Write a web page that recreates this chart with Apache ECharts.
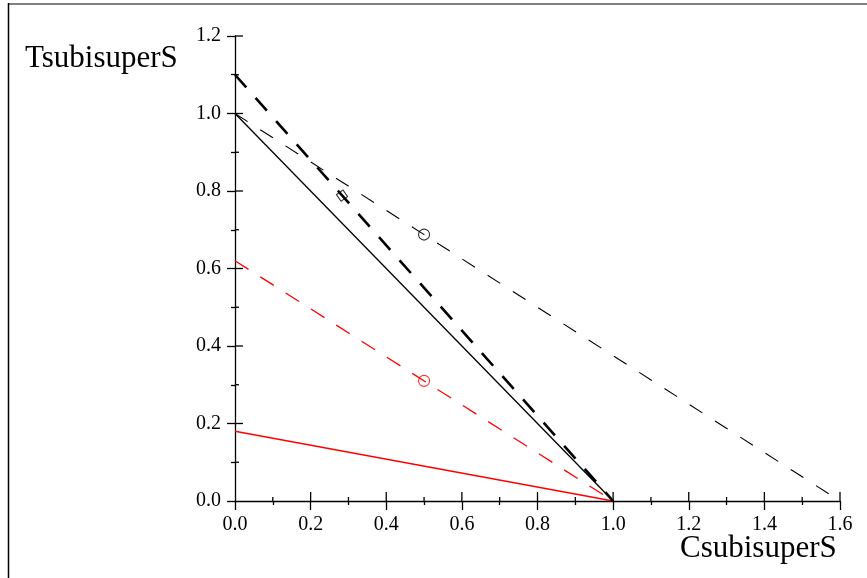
<!DOCTYPE html>
<html>
<head>
<meta charset="utf-8">
<script src="https://cdn.jsdelivr.net/npm/echarts@6/dist/echarts.min.js"></script>
<style>
  html, body { margin: 0; padding: 0; background: #fff; }
  #chart { width: 867px; height: 578px; }
</style>
</head>
<body>
<div id="chart"></div>
<script>
// Line segments, each given by its two end points [C, T]
const solidBlack = [[0, 1.0], [1.0, 0]];
const thickDashBlack = [[0, 1.1], [1.0, 0]];
const thinDashBlack = [[0, 1.0], [1.6, 0]];
const dashRed = [[0, 0.62], [1.0, 0]];
const solidRed = [[0, 0.18], [1.0, 0]];

// Marked points
const circleBlack = [[0.5, 0.6875]];
const circleRed = [[0.5, 0.31]];
const squareBlack = [[0.283, 0.788]];

// Axis ranges and tick spacing
const xRange = [0, 1.6];
const yRange = [0, 1.2];
const tickStep = 0.2;

const xTitle = 'CsubisuperS';
const yTitle = 'TsubisuperS';

const serif = '"Liberation Serif", "Times New Roman", serif';

const MAJOR_LEN_X = 9, MAJOR_LEN_Y = 8, MINOR_LEN = 4;

const chart = echarts.init(document.getElementById('chart'), null, { renderer: 'canvas' });

function axis(min, max, len) {
  return {
    type: 'value',
    min: min,
    max: max,
    interval: tickStep,
    splitLine: { show: false },
    axisLine: { show: true, onZero: false, lineStyle: { color: '#000', width: 1.3 } },
    axisTick: { show: true, inside: false, length: len, lineStyle: { color: '#000', width: 1.3 } },
    minorTick: { show: true, splitNumber: 2, length: MINOR_LEN, lineStyle: { color: '#000', width: 1.3 } },
    minorSplitLine: { show: false },
    axisLabel: {
      show: true, margin: 14, color: '#000', fontFamily: serif, fontSize: 20,
      formatter: v => v.toFixed(1)
    }
  };
}

// Inward halves of the ticks, so that every tick crosses its axis line.
// Each item: [value, which axis (0 = x, 1 = y), major (1) or minor (0)]
const innerTicks = [];
const half = tickStep / 2;
for (let i = 1; i * half <= xRange[1] + 1e-9; i++) innerTicks.push([+(i * half).toFixed(2), 0, i % 2 === 0 ? 1 : 0]);
for (let i = 1; i * half <= yRange[1] + 1e-9; i++) innerTicks.push([+(i * half).toFixed(2), 1, i % 2 === 0 ? 1 : 0]);

function renderTick(params, api) {
  const v = api.value(0);
  const onY = api.value(1) === 1;
  const major = api.value(2) === 1;
  if (onY) {
    const p = api.coord([xRange[0], v]);
    const len = major ? MAJOR_LEN_Y : MINOR_LEN;
    return { type: 'line', shape: { x1: p[0], y1: p[1], x2: p[0] + len, y2: p[1] },
             style: { stroke: '#000', lineWidth: 1.3 } };
  }
  const p = api.coord([v, yRange[0]]);
  const len = major ? MAJOR_LEN_X : MINOR_LEN;
  return { type: 'line', shape: { x1: p[0], y1: p[1], x2: p[0], y2: p[1] - len },
           style: { stroke: '#000', lineWidth: 1.3 } };
}

function lineSeries(data, color, width, dash) {
  return {
    type: 'line',
    data: data,
    showSymbol: false,
    symbol: 'none',
    silent: true,
    animation: false,
    z: 3,
    lineStyle: { color: color, width: width, type: dash || 'solid' }
  };
}

function markerSeries(data, color, symbol, size, rotate) {
  return {
    type: 'scatter',
    data: data,
    symbol: symbol,
    symbolSize: size,
    symbolRotate: rotate || 0,
    silent: true,
    animation: false,
    z: 4,
    itemStyle: { color: 'transparent', borderColor: color, borderWidth: 1.1 }
  };
}

chart.setOption({
  backgroundColor: '#fff',
  animation: false,
  grid: { left: 235, right: 27, top: 36, bottom: 77, containLabel: false },
  xAxis: axis(xRange[0], xRange[1], MAJOR_LEN_X),
  yAxis: axis(yRange[0], yRange[1], MAJOR_LEN_Y),
  series: [
    { type: 'custom', data: innerTicks, renderItem: renderTick, clip: false,
      silent: true, animation: false, z: 5 },
    lineSeries(solidRed, '#ff0000', 1.3),
    lineSeries(dashRed, '#ff0000', 1.3, [16, 14]),
    lineSeries(thinDashBlack, '#000', 1.1, [15, 15]),
    lineSeries(solidBlack, '#000', 1.3),
    lineSeries(thickDashBlack, '#000', 2.6, [17, 14]),
    markerSeries(circleBlack, '#000', 'circle', 11),
    markerSeries(circleRed, '#ff0000', 'circle', 11),
    markerSeries(squareBlack, '#000', 'rect', 8, 35)
  ],
  graphic: [
    { type: 'line', shape: { x1: 8, y1: 4, x2: 867, y2: 4 }, style: { stroke: '#808080', lineWidth: 2 }, silent: true },
    { type: 'line', shape: { x1: 8.5, y1: 3, x2: 8.5, y2: 578 }, style: { stroke: '#000', lineWidth: 1.5 }, silent: true },
    { type: 'text', left: 25, top: 43, silent: true,
      style: { text: yTitle, fill: '#000', font: '31px ' + serif } },
    { type: 'text', left: 680, top: 533, silent: true,
      style: { text: xTitle, fill: '#000', font: '31px ' + serif } }
  ]
});
</script>
</body>
</html>
